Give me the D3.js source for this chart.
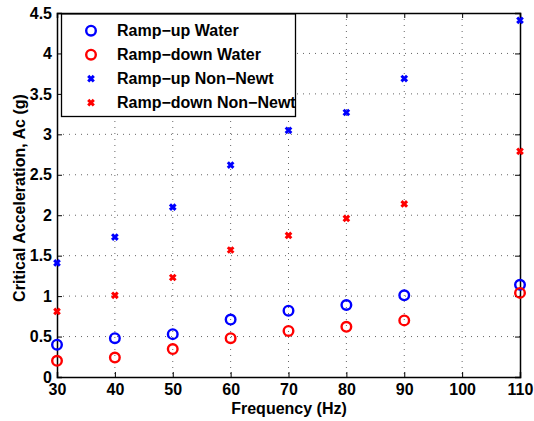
<!DOCTYPE html>
<html>
<head>
<meta charset="utf-8">
<script src="https://cdn.jsdelivr.net/npm/d3@7"></script>
<style>
  body { margin: 0; background: #fff; }
  svg text { font-family: "Liberation Sans", Arial, sans-serif; font-weight: bold; fill: #000; }
</style>
</head>
<body>
<svg id="chart" width="534" height="421"></svg>
<script>
// Data
const freqs = [30, 40, 50, 60, 70, 80, 90, 110];
const rampUpWater = [0.40, 0.48, 0.53, 0.71, 0.82, 0.89, 1.01, 1.14];
const rampDownWater = [0.20, 0.24, 0.345, 0.48, 0.57, 0.62, 0.70, 1.04];
const rampUpNonNewt = [1.41, 1.73, 2.10, 2.62, 3.05, 3.27, 3.69, 4.41];
const rampDownNonNewt = [0.81, 1.01, 1.23, 1.57, 1.75, 1.96, 2.14, 2.79];
const xTicks = [30, 40, 50, 60, 70, 80, 90, 100, 110];
const yTicks = [0, 0.5, 1, 1.5, 2, 2.5, 3, 3.5, 4, 4.5];

const series = [
    { name: "Ramp\u2212up Water", values: rampUpWater, color: "#0000ff", marker: "o" },
    { name: "Ramp\u2212down Water", values: rampDownWater, color: "#ff0000", marker: "o" },
    { name: "Ramp\u2212up Non\u2212Newt", values: rampUpNonNewt, color: "#0000ff", marker: "x" },
    { name: "Ramp\u2212down Non\u2212Newt", values: rampDownNonNewt, color: "#ff0000", marker: "x" }
];

const margin = { left: 57, right: 14, top: 13, bottom: 44 };
const svg = d3.select("#chart");
const width = 534 - margin.left - margin.right;
const height = 421 - margin.top - margin.bottom;

const g = svg.append("g")
    .attr("transform", "translate(" + margin.left + "," + margin.top + ")");

const x = d3.scaleLinear().domain([30, 110]).range([0, width]);
const y = d3.scaleLinear().domain([0, 4.5]).range([height, 0]);

// Grid lines (dotted)
g.append("g")
    .selectAll("line")
    .data(xTicks.slice(1, -1))
    .enter().append("line")
    .attr("x1", d => x(d)).attr("x2", d => x(d))
    .attr("y1", 0).attr("y2", height)
    .attr("stroke", "#555").attr("stroke-width", 0.9)
    .attr("stroke-dasharray", "1,5");
g.append("g")
    .selectAll("line")
    .data(yTicks.slice(1, -1))
    .enter().append("line")
    .attr("x1", 0).attr("x2", width)
    .attr("y1", d => y(d)).attr("y2", d => y(d))
    .attr("stroke", "#555").attr("stroke-width", 0.9)
    .attr("stroke-dasharray", "1,5");

// Axes
const fmt = d => String(d);
const xAxis = g.append("g")
    .attr("transform", "translate(0," + height + ")")
    .call(d3.axisBottom(x).tickValues(xTicks).tickFormat(fmt).tickSize(-5).tickPadding(7));
const xTop = g.append("g")
    .call(d3.axisTop(x).tickValues(xTicks).tickFormat("").tickSize(-5));
const yAxis = g.append("g")
    .call(d3.axisLeft(y).tickValues(yTicks).tickFormat(fmt).tickSize(-5).tickPadding(5));
const yRight = g.append("g")
    .attr("transform", "translate(" + width + ",0)")
    .call(d3.axisRight(y).tickValues(yTicks).tickFormat("").tickSize(-5));

[xAxis, xTop, yAxis, yRight].forEach(a => {
    a.select(".domain").attr("stroke", "#000").attr("stroke-width", 1.5);
    a.selectAll(".tick line").attr("stroke", "#000").attr("stroke-width", 1);
    a.selectAll("text").attr("font-size", 16);
});

// Axis labels
svg.append("text")
    .attr("x", 289)
    .attr("y", 414)
    .attr("text-anchor", "middle")
    .attr("font-size", 16)
    .text("Frequency (Hz)");
svg.append("text")
    .attr("transform", "translate(25,198) rotate(-90)")
    .attr("text-anchor", "middle")
    .attr("font-size", 16)
    .text("Critical Acceleration, Ac (g)");

function drawMarker(sel, marker, color) {
    if (marker === "o") {
        sel.append("circle")
            .attr("r", 4.8)
            .attr("fill", "none")
            .attr("stroke", color)
            .attr("stroke-width", 2.4);
    } else {
        sel.append("path")
            .attr("d", "M-2.8,-2.8L2.8,2.8M-2.8,2.8L2.8,-2.8")
            .attr("stroke", color)
            .attr("stroke-width", 3);
    }
}

// Points
series.forEach(s => {
    const pts = g.append("g")
        .selectAll("g")
        .data(s.values.map((v, i) => [freqs[i], v]))
        .enter().append("g")
        .attr("transform", d => "translate(" + x(d[0]) + "," + y(d[1]) + ")");
    drawMarker(pts, s.marker, s.color);
});

// Legend
const legend = svg.append("g");
legend.append("rect")
    .attr("x", 61.5).attr("y", 14)
    .attr("width", 234).attr("height", 102.5)
    .attr("fill", "#fff")
    .attr("stroke", "#000").attr("stroke-width", 1.3);
series.forEach((s, i) => {
    const row = legend.append("g")
        .attr("transform", "translate(91," + (30.7 + i * 24) + ")");
    drawMarker(row, s.marker, s.color);
    row.append("text")
        .attr("x", 26)
        .attr("y", 5.7)
        .attr("font-size", 16)
        .text(s.name);
});
</script>
</body>
</html>
